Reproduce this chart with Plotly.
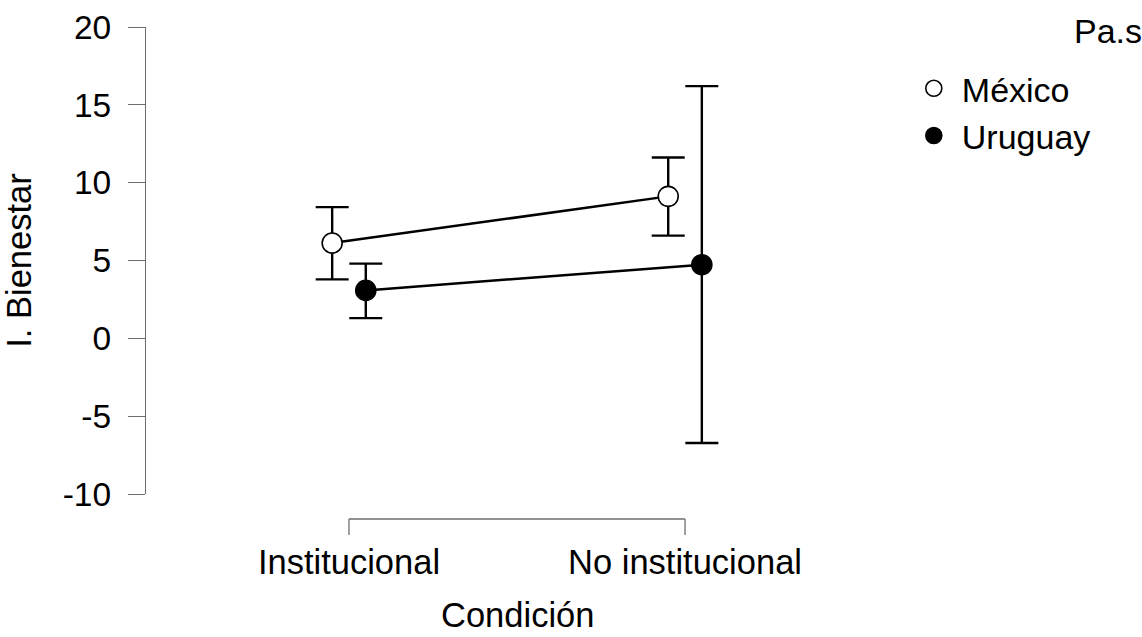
import plotly.graph_objects as go

# ---- data ----
categories = ["Institucional", "No institucional"]
series_names = ["México", "Uruguay"]
mexico_mean = [6.12, 9.12]
mexico_upper = [8.43, 11.62]
mexico_lower = [3.79, 6.60]
uruguay_mean = [3.08, 4.73]
uruguay_upper = [4.80, 16.20]
uruguay_lower = [1.30, -6.72]
y_tickvals = [-10, -5, 0, 5, 10, 15, 20]
y_ticktext = ["-10", "-5", "0", "5", "10", "15", "20"]
x_title = "Condición"
y_title = "I. Bienestar"
legend_title = "Pa.s"

# ---- style ----
FONT = "Liberation Sans, Arial, sans-serif"
DODGE = 0.05
AXIS_COL = "#6e6e6e"

cat_idx = list(range(len(categories)))
series = [
    (series_names[0], mexico_mean, mexico_upper, mexico_lower, -DODGE, "white"),
    (series_names[1], uruguay_mean, uruguay_upper, uruguay_lower, DODGE, "black"),
]

fig = go.Figure()
# connecting lines (below markers)
for name, mean, up, lo, off, fill in series:
    fig.add_trace(go.Scatter(
        x=[i + off for i in cat_idx], y=mean, mode="lines", name=name,
        line=dict(color="black", width=2.5), showlegend=False, hoverinfo="skip"))
# markers with error bars
for name, mean, up, lo, off, fill in series:
    fig.add_trace(go.Scatter(
        x=[i + off for i in cat_idx], y=mean, mode="markers", name=name,
        marker=dict(symbol="circle", size=20, color=fill,
                    line=dict(color="black", width=1.6)),
        error_y=dict(type="data", symmetric=False,
                     array=[u - m for u, m in zip(up, mean)],
                     arrayminus=[m - l for m, l in zip(mean, lo)],
                     color="black", thickness=2.4, width=16.5),
        showlegend=True))

# bracket-style x axis line (axis decoration)
br_y0 = -0.0535
br_y1 = -0.0878
fig.add_shape(type="line", xref="x", yref="paper", x0=cat_idx[0], x1=cat_idx[-1],
              y0=br_y0, y1=br_y0, line=dict(color=AXIS_COL, width=1.3))
for i in cat_idx:
    fig.add_shape(type="line", xref="x", yref="paper", x0=i, x1=i,
                  y0=br_y0, y1=br_y1, line=dict(color=AXIS_COL, width=1.3))

# x-axis title centred under the category bracket
fig.add_annotation(text=x_title, xref="x", yref="paper",
                   x=(cat_idx[0] + cat_idx[-1]) / 2, y=-0.259,
                   xanchor="center", yanchor="middle", showarrow=False,
                   font=dict(family=FONT, size=34.5, color="black"))

fig.add_annotation(text=legend_title, xref="paper", yref="paper", x=1.3445, y=0.991,
                   xanchor="right", yanchor="middle", showarrow=False,
                   font=dict(family=FONT, size=34, color="black"))

fig.update_layout(
    width=1142, height=637,
    margin=dict(l=146, r=254, t=27, b=143, autoexpand=False),
    paper_bgcolor="white", plot_bgcolor="white",
    font=dict(family=FONT, size=33, color="black"),
    xaxis=dict(range=[-0.604, 1.604], tickvals=cat_idx, ticktext=categories,
               tickfont=dict(size=34.5),
               showline=False, showgrid=False, zeroline=False, ticks="",
               ticklabelstandoff=44),
    yaxis=dict(range=[-10, 20], tickvals=y_tickvals, ticktext=y_ticktext,
               tickfont=dict(size=33.5),
               showline=True, linecolor=AXIS_COL, linewidth=1.3,
               ticks="outside", ticklen=17, tickwidth=1.3, tickcolor=AXIS_COL,
               showgrid=False, zeroline=False, ticklabelstandoff=10,
               title=dict(text=y_title, standoff=20,
                          font=dict(family=FONT, size=34.5))),
    legend=dict(x=1.024, y=0.93, xanchor="left", yanchor="top",
                font=dict(family=FONT, size=34), itemwidth=46,
                bgcolor="rgba(0,0,0,0)", tracegroupgap=0),
)

fig.write_html("out.html", config={"displayModeBar": False},
               post_script="document.body.style.margin='0';document.body.style.padding='0';")
